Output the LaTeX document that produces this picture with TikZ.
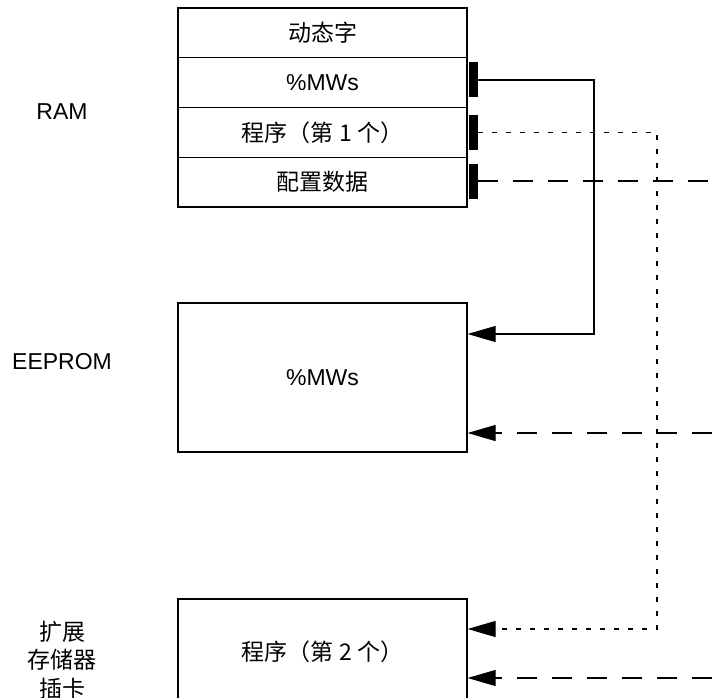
\documentclass[tikz,border=0pt]{standalone}
\usepackage{fontspec}
\setmainfont{Liberation Sans}
\newfontfamily\cjk{Noto Sans CJK SC}
\usetikzlibrary{arrows.meta}
\begin{document}
\begin{tikzpicture}[x=1pt,y=-1pt,
  txt/.style={font=\fontsize{23}{28.5}\selectfont},
  box/.style={draw, line width=1.2pt, minimum width=289pt, inner sep=0pt, txt},
  row/.style={box, minimum height=49.75pt},
  bar/.style={fill=black, minimum width=9pt, minimum height=35pt, inner sep=0pt},
  lbl/.style={txt, align=center, inner sep=0pt},
  conn/.style={line width=1.2pt},
  dotline/.style={conn, dash pattern=on 5pt off 9pt},
  dashline/.style={conn, dash pattern=on 20pt off 15pt},
  arr/.style={-{Triangle[length=28pt,width=16pt]}}]
\clip (0,0) rectangle (712,698);
% RAM stack
\node[row] (r1) at (322.5,32.9) {\cjk 动态字};
\node[row] (r2) at (322.5,82.6) {\%MWs};
\node[row] (r3) at (322.5,132.4) {\cjk 程序（第 1 个）};
\node[row] (r4) at (322.5,182.1) {\cjk 配置数据};
\node[bar] (b2) at (473,80) {};
\node[bar] (b3) at (473,132.5) {};
\node[bar] (b4) at (473,181) {};
% other memories
\node[box, minimum height=149pt] (ee) at (322.5,377.5) {\%MWs};
\node[box, minimum height=106pt] (card) at (322.5,652) {\cjk 程序（第 2 个）};
% labels
\node[lbl] (lram) at (62,112) {RAM};
\node[lbl] (lee) at (62,362) {EEPROM};
\node[lbl] (lcard) at (62,660) {\cjk 扩展\\\cjk 存储器\\\cjk 插卡};
% connectors
\coordinate (k1) at (594,334);
\coordinate (k2) at (657,629);
\coordinate (e1) at (712,181);
\coordinate (e2) at (712,433);
\coordinate (e3) at (712,678);
\draw[conn, arr] (b2.east) -| (k1) -- (k1 -| ee.east);
\draw[dotline, arr] (b3.east) -| (k2) -- (k2 -| card.east);
\draw[dashline] (b4.east) -- (e1);
\draw[dashline, arr] (e2) -- (e2 -| ee.east);
\draw[dashline, arr] (e3) -- (e3 -| card.east);
\end{tikzpicture}
\end{document}
